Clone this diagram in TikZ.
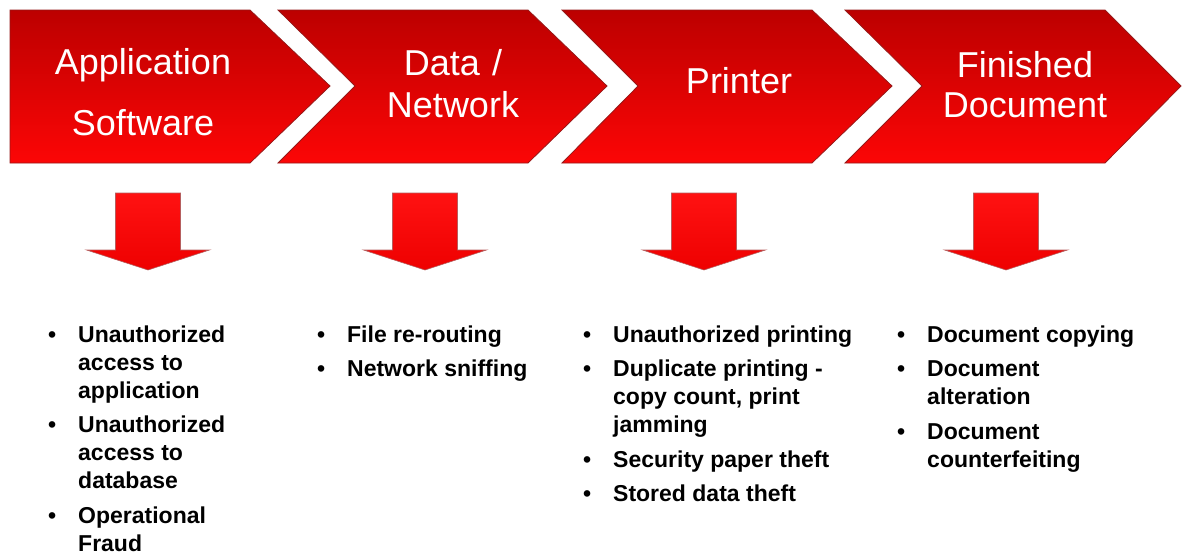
\documentclass[tikz,border=0pt]{standalone}
\usepackage{fontspec}
\setmainfont{Liberation Sans}
\definecolor{chevtop}{RGB}{188,0,0}
\definecolor{chevbot}{RGB}{252,6,6}
\definecolor{chevedge}{RGB}{150,25,25}
\definecolor{arrtop}{RGB}{255,18,18}
\definecolor{arrbot}{RGB}{238,0,0}
\newcommand{\riskitem}[1]{\leavevmode\llap{\textbullet\hspace{22pt}}#1\par}
\tikzset{
  chevron/.style={top color=chevtop, bottom color=chevbot, draw=chevedge, line width=0.8pt, line join=miter},
  downarr/.style={top color=arrtop, bottom color=arrbot, draw=chevedge!70, line width=0.6pt},
  headtext/.style={text=white, align=center, anchor=base, inner sep=0pt, text width=260pt},
  risklist/.style={anchor=base west, inner sep=0pt, font=\bfseries\fontsize{23}{28}\selectfont},
  downarrow/.pic={\path[downarr] (-32.5,0) -- (32.5,0) -- (32.5,57) -- (61.5,57) -- (0,77) -- (-61.5,57) -- (-32.5,57) -- cycle;}
}
\newcommand{\risklistbox}[1]{\begin{minipage}[t]{300pt}\setlength{\parindent}{0pt}\setlength{\leftskip}{28pt}\setlength{\parskip}{6.5pt}#1\end{minipage}}
\begin{document}
\begin{tikzpicture}[x=1pt,y=-1pt]
\useasboundingbox (0,0) rectangle (1182,557);
% chevrons
\path[chevron] (10,10) -- (250,10) -- (330,86) -- (250,163) -- (10,163) -- cycle;
\path[chevron] (278,10) -- (528,10) -- (607,86) -- (528,163) -- (278,163) -- (355,86) -- cycle;
\path[chevron] (562,10) -- (812,10) -- (892,86) -- (812,163) -- (562,163) -- (638,86) -- cycle;
\path[chevron] (845,10) -- (1105,10) -- (1181,86) -- (1105,163) -- (845,163) -- (922,86) -- cycle;
% header texts
\node[headtext, font=\fontsize{36}{61}\selectfont] (h1) at (143,74) {Application\\Software};
\node[headtext, font=\fontsize{36}{42}\selectfont] (h2) at (453,75) {Data /\\Network};
\node[headtext, font=\fontsize{36}{42}\selectfont] (h3) at (739,93) {Printer};
\node[headtext, font=\fontsize{36}{40}\selectfont] (h4) at (1025,77) {Finished\\Document};
% down arrows
\pic at (148,193) {downarrow};
\pic at (425,193) {downarrow};
\pic at (704,193) {downarrow};
\pic at (1006,193) {downarrow};
% lists
\node[risklist] (l1) at (50,342) {\risklistbox{%
\riskitem{Unauthorized\newline access to\newline application}%
\riskitem{Unauthorized\newline access to\newline database}%
\riskitem{Operational\newline Fraud}}};
\node[risklist] (l2) at (319,342) {\risklistbox{%
\riskitem{File re-routing}%
\riskitem{Network sniffing}}};
\node[risklist] (l3) at (585,342) {\risklistbox{%
\riskitem{Unauthorized printing}%
\riskitem{Duplicate printing -\newline copy count, print\newline jamming}%
\riskitem{Security paper theft}%
\riskitem{Stored data theft}}};
\node[risklist] (l4) at (899,342) {\risklistbox{%
\riskitem{Document copying}%
\riskitem{Document\newline alteration}%
\riskitem{Document\newline counterfeiting}}};
\end{tikzpicture}
\end{document}
